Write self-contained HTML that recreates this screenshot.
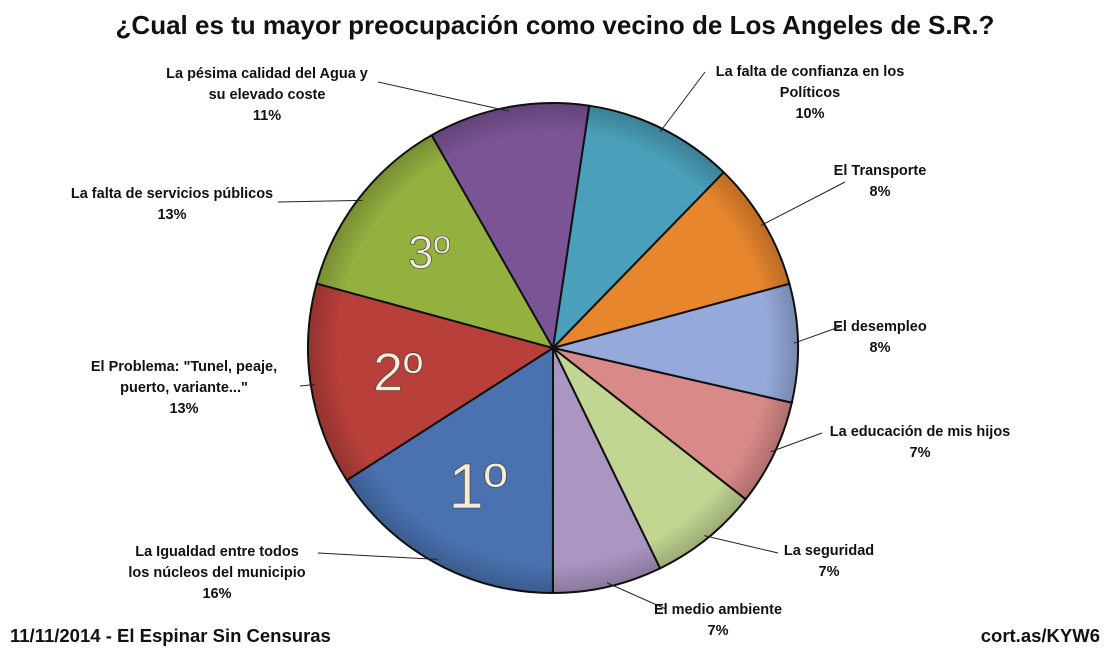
<!DOCTYPE html>
<html><head><meta charset="utf-8">
<style>
html,body{margin:0;padding:0;background:#fff;}
body{width:1110px;height:650px;overflow:hidden;font-family:"Liberation Sans",sans-serif;}
svg text{font-family:"Liberation Sans",sans-serif;}
</style></head>
<body>
<svg id="chart" width="1110" height="650" viewBox="0 0 1110 650">
<defs>
<radialGradient id="shade" cx="50%" cy="50%" r="50%">
<stop offset="0.88" stop-color="#000" stop-opacity="0"/>
<stop offset="1" stop-color="#000" stop-opacity="0.2"/>
</radialGradient>
</defs>
<text x="555" y="34" text-anchor="middle" font-size="26" font-weight="bold" fill="#111">¿Cual es tu mayor preocupación como vecino de Los Angeles de S.R.?</text>
<g id="slices"></g>
<g id="labels"></g>
<text x="10" y="642" font-size="18.5" font-weight="bold" fill="#111">11/11/2014 - El Espinar Sin Censuras</text>
<text x="1100" y="642" text-anchor="end" font-size="18.5" font-weight="bold" fill="#111">cort.as/KYW6</text>
</svg>
<script>
const categories = ["La falta de confianza en los Políticos","El Transporte","El desempleo","La educación de mis hijos","La seguridad","El medio ambiente","La Igualdad entre todos los núcleos del municipio","El Problema: \"Tunel, peaje, puerto, variante...\"","La falta de servicios públicos","La pésima calidad del Agua y su elevado coste"];
const values = [9.9, 8.5, 7.8, 7.0, 7.2, 7.2, 15.9, 13.3, 12.5, 10.6];
const pctLabels = ["10%","8%","8%","7%","7%","7%","16%","13%","13%","11%"];
const colors = ["#4aa0ba","#e8862e","#95aadb","#d98a88","#c2d592","#ab96c2","#4a72b0","#b83f3a","#94b140","#7a5495"];
const rankLabels = {6:"1º",7:"2º",8:"3º"};
const labelLines = [
 ["La falta de confianza  en los","Políticos"],["El Transporte"],["El desempleo"],["La educación de mis hijos"],["La seguridad"],["El medio ambiente"],
 ["La Igualdad  entre todos","los núcleos del municipio"],["El Problema: \"Tunel, peaje,","puerto, variante...\""],["La falta de servicios públicos"],["La pésima calidad del Agua y","su elevado coste"]];
const labelPos=[[810,76],[880,175],[880,331],[920,436],[829,555],[718,614],[217,556],[184,371],[172,198],[267,78]];
const lineStart=[[705,72],[845,182],[842,326],[822,433],[778,553],[666,609],[318,553],[300,386],[278,202],[378,82]];
const cx=553, cy=348, r=245, startDeg=8.5;
const NS="http://www.w3.org/2000/svg";
const gS=document.getElementById('slices'), gL=document.getElementById('labels');
const total=values.reduce((a,b)=>a+b,0);
function pt(deg,rad){const a=(deg-90)*Math.PI/180;return [cx+rad*Math.cos(a),cy+rad*Math.sin(a)];}
let ang=startDeg;
const rankSize={6:64,7:54,8:46};
values.forEach((v,i)=>{
 const sweep=v/total*360, a0=ang, a1=ang+sweep; ang=a1;
 const p0=pt(a0,r), p1=pt(a1,r);
 const path=document.createElementNS(NS,'path');
 path.setAttribute('d',`M${cx},${cy} L${p0[0]},${p0[1]} A${r},${r} 0 ${sweep>180?1:0} 1 ${p1[0]},${p1[1]} Z`);
 path.setAttribute('fill',colors[i]);path.setAttribute('stroke','#111');path.setAttribute('stroke-width','2');
 
 
 gS.appendChild(path);
 const mid=(a0+a1)/2;
 if(rankLabels[i]){
  const lp=pt(mid,r*0.64);
  const t=document.createElementNS(NS,'text');
  t.setAttribute('x',lp[0]);t.setAttribute('y',lp[1]+rankSize[i]*0.35);t.setAttribute('text-anchor','middle');
  t.setAttribute('font-size',rankSize[i]);t.setAttribute('fill','#f3ecd8');t.setAttribute('stroke','#333');t.setAttribute('stroke-width','0.6');
  t.textContent=rankLabels[i];
  
  
  gL.appendChild(t);
 }
 const e=pt(mid,r-4), s=lineStart[i];
 const ln=document.createElementNS(NS,'polyline');
 ln.setAttribute('points',`${s[0]},${s[1]} ${e[0]},${e[1]}`);ln.setAttribute('stroke','#222');ln.setAttribute('fill','none');ln.setAttribute('stroke-width','1');
 
 
 gL.appendChild(ln);
 const lines=labelLines[i].concat([pctLabels[i]]);
 const t=document.createElementNS(NS,'text');
 t.setAttribute('font-size','14.5');t.setAttribute('font-weight','bold');t.setAttribute('fill','#111');t.setAttribute('text-anchor','middle');
 
 
 lines.forEach((l,k)=>{const ts=document.createElementNS(NS,'tspan');ts.setAttribute('x',labelPos[i][0]);ts.setAttribute('y',labelPos[i][1]+k*21);ts.textContent=l;t.appendChild(ts);});
 gL.appendChild(t);
});
const sh=document.createElementNS(NS,'circle');
sh.setAttribute('cx',cx);sh.setAttribute('cy',cy);sh.setAttribute('r',r);sh.setAttribute('fill','url(#shade)');sh.setAttribute('pointer-events','none');


gS.appendChild(sh);
</script>
</body></html>
